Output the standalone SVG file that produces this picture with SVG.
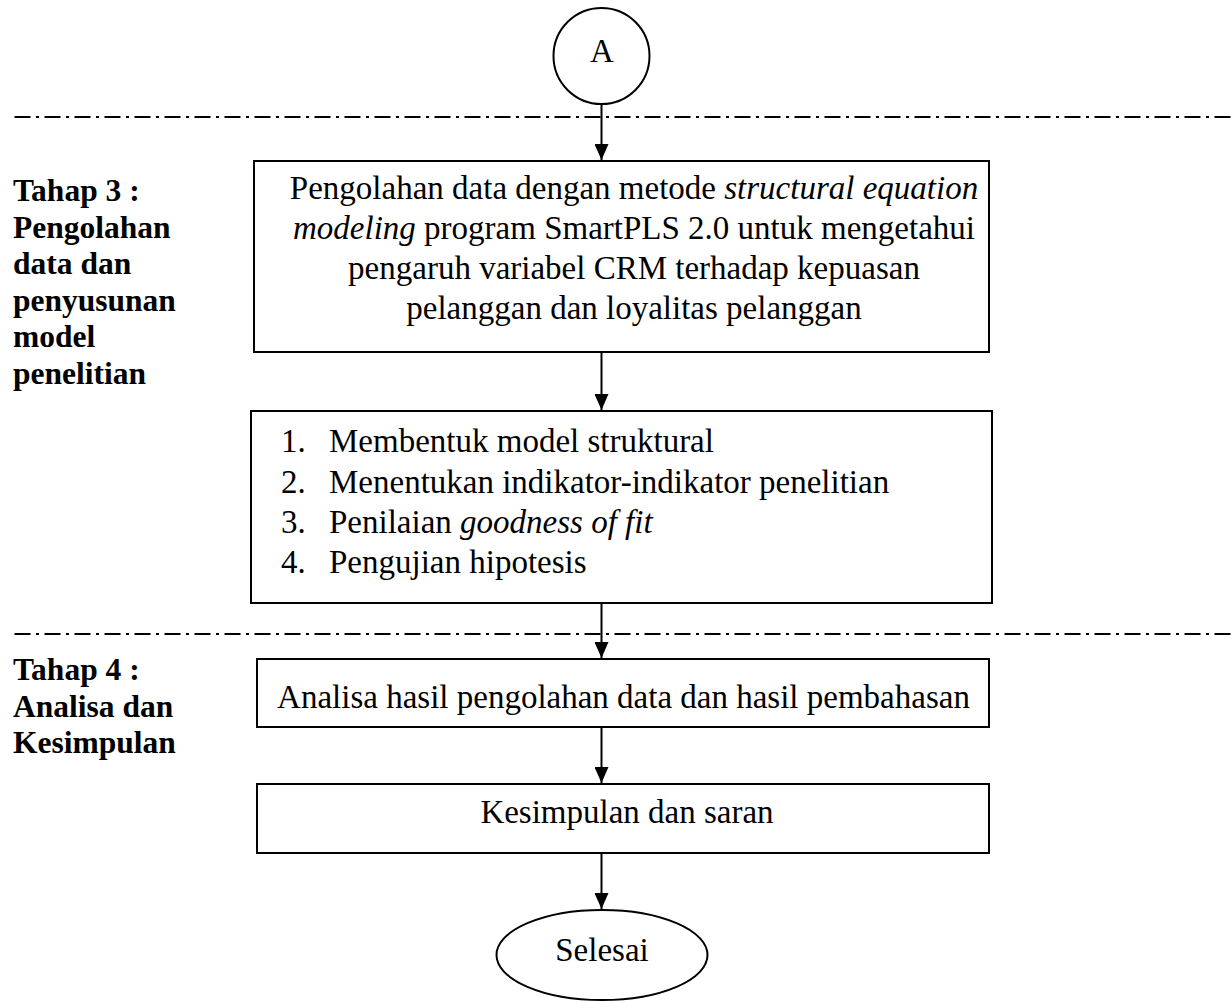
<svg xmlns="http://www.w3.org/2000/svg" width="1232" height="1002" viewBox="0 0 1232 1002">
  <style>
    .bg { fill: #ffffff; }
    .box { fill: #ffffff; stroke: #000000; stroke-width: 2; }
    .sep { fill: none; stroke: #000000; stroke-width: 2; stroke-dasharray: 16 5.5 3 5.5; }
    .edge { fill: none; stroke: #000000; stroke-width: 2; }
    .txt { font-family: "Liberation Serif", "Times New Roman", serif; font-size: 33px; fill: #000000; }
    .mid { text-anchor: middle; }
    .lbl { font-family: "Liberation Serif", "Times New Roman", serif; font-size: 31.5px; font-weight: bold; fill: #000000; }
    .it { font-style: italic; }
  </style>
  <defs>
    <!-- filled triangular head, drawn along +x so orient="auto" follows the line -->
    <marker id="arrow" markerUnits="userSpaceOnUse" markerWidth="16" markerHeight="14" refX="16" refY="7" orient="auto" viewBox="0 0 16 14">
      <path d="M0,0 L16,7 L0,14 Z" fill="#000000"/>
    </marker>
  </defs>

  <rect class="bg" x="0" y="0" width="1232" height="1002"/>

  <!-- stage separators -->
  <g id="separators">
    <line class="sep" x1="14.5" y1="117" x2="1232" y2="117"/>
    <line class="sep" x1="14.5" y1="634" x2="1232" y2="634"/>
  </g>

  <!-- stage labels -->
  <g id="label-tahap3">
    <text class="lbl" x="13" y="201">Tahap 3 :</text>
    <text class="lbl" x="13" y="237.5">Pengolahan</text>
    <text class="lbl" x="13" y="274">data dan</text>
    <text class="lbl" x="13" y="310.5">penyusunan</text>
    <text class="lbl" x="13" y="347">model</text>
    <text class="lbl" x="13" y="383.5">penelitian</text>
  </g>
  <g id="label-tahap4">
    <text class="lbl" x="13" y="680">Tahap 4 :</text>
    <text class="lbl" x="13" y="716.5">Analisa dan</text>
    <text class="lbl" x="13" y="753">Kesimpulan</text>
  </g>

  <!-- connectors -->
  <g id="connectors">
    <line class="edge" x1="601.5" y1="104" x2="601.5" y2="160" marker-end="url(#arrow)"/>
    <line class="edge" x1="601.5" y1="352" x2="601.5" y2="410" marker-end="url(#arrow)"/>
    <line class="edge" x1="601.5" y1="603" x2="601.5" y2="658" marker-end="url(#arrow)"/>
    <line class="edge" x1="601.5" y1="727" x2="601.5" y2="783" marker-end="url(#arrow)"/>
    <line class="edge" x1="601.5" y1="853" x2="601.5" y2="909" marker-end="url(#arrow)"/>
  </g>

  <!-- off-page connector A -->
  <g id="node-a">
    <circle class="box" cx="601.5" cy="56" r="48"/>
    <text class="txt mid" x="602" y="62">A</text>
  </g>

  <!-- data processing -->
  <g id="node-pengolahan">
    <rect class="box" x="254" y="161" width="735" height="191"/>
    <text class="txt mid" x="634" y="199">Pengolahan data dengan metode <tspan class="it">structural equation</tspan></text>
    <text class="txt mid" x="634" y="239"><tspan class="it">modeling</tspan> program SmartPLS 2.0 untuk mengetahui</text>
    <text class="txt mid" x="634" y="279">pengaruh variabel CRM terhadap kepuasan</text>
    <text class="txt mid" x="634" y="319">pelanggan dan loyalitas pelanggan</text>
  </g>

  <!-- modelling steps -->
  <g id="node-langkah">
    <rect class="box" x="251" y="411" width="741" height="192"/>
    <text class="txt" x="281" y="452">1.</text>
    <text class="txt" x="329" y="452">Membentuk model struktural</text>
    <text class="txt" x="281" y="492.5">2.</text>
    <text class="txt" x="329" y="492.5">Menentukan indikator-indikator penelitian</text>
    <text class="txt" x="281" y="533">3.</text>
    <text class="txt" x="329" y="533">Penilaian <tspan class="it">goodness of fit</tspan></text>
    <text class="txt" x="281" y="573">4.</text>
    <text class="txt" x="329" y="573">Pengujian hipotesis</text>
  </g>

  <!-- analysis -->
  <g id="node-analisa">
    <rect class="box" x="257" y="659" width="732" height="68"/>
    <text class="txt mid" x="623.5" y="708">Analisa hasil pengolahan data dan hasil pembahasan</text>
  </g>

  <!-- conclusion -->
  <g id="node-kesimpulan">
    <rect class="box" x="257" y="784" width="732" height="69"/>
    <text class="txt mid" x="627" y="823">Kesimpulan dan saran</text>
  </g>

  <!-- end terminator -->
  <g id="node-selesai">
    <ellipse class="box" cx="602" cy="955" rx="105.5" ry="45"/>
    <text class="txt mid" x="602" y="961">Selesai</text>
  </g>
</svg>
